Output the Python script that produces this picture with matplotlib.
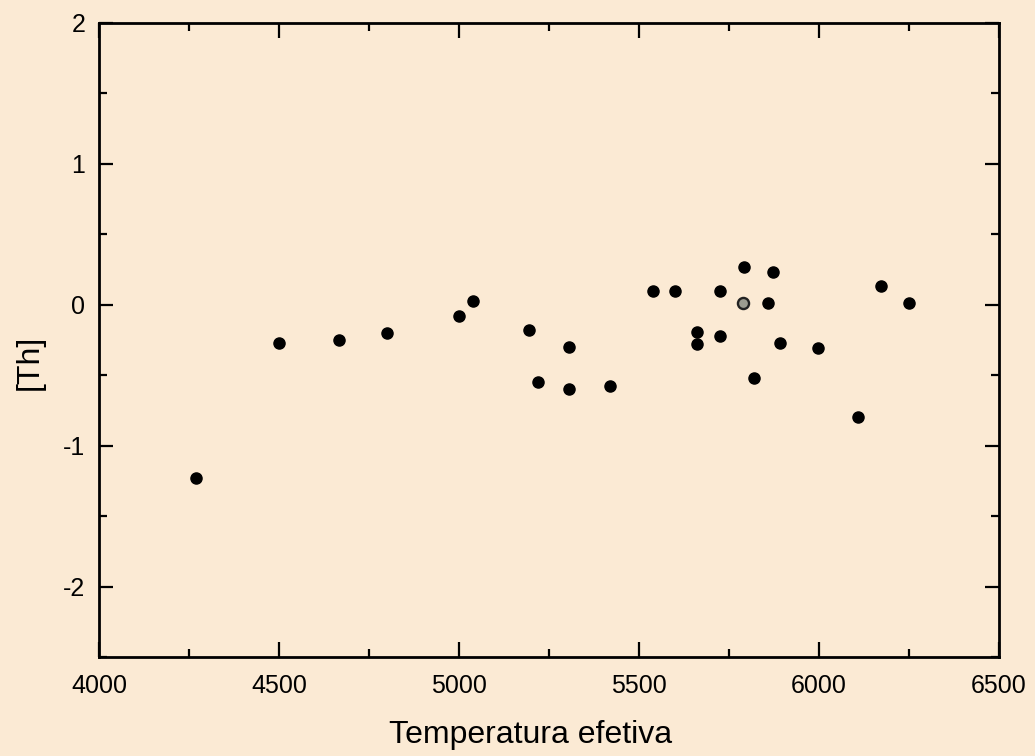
import numpy as np
import matplotlib.pyplot as plt
from matplotlib.ticker import MultipleLocator

# effective temperature (K) and thorium abundance [Th]
teff = [4270, 4500, 4667, 4801, 5001, 5040, 5195, 5220, 5306, 5306, 5419,
        5538, 5600, 5662, 5660, 5725, 5725, 5792, 5820, 5857,
        5871, 5892, 5997, 6109, 6173, 6251]
th = [-1.23, -0.27, -0.25, -0.20, -0.08, 0.03, -0.18, -0.55, -0.30, -0.60, -0.58,
      0.10, 0.10, -0.19, -0.28, 0.10, -0.22, 0.27, -0.52, 0.01,
      0.23, -0.27, -0.31, -0.80, 0.13, 0.01]

# the sun, drawn as a grey dot
sun_teff = [5790]
sun_th = [0.01]

bg = '#fbead4'
plt.rcParams['font.family'] = ['Liberation Sans', 'DejaVu Sans']
plt.rcParams['axes.unicode_minus'] = False

fig = plt.figure(figsize=(10.35, 7.56), dpi=100, facecolor=bg)
ax = fig.add_axes([0.0957, 0.131, 0.8695, 0.8386], facecolor=bg)

ax.plot(teff, th, 'o', color='black', markersize=8, linestyle='none')
ax.plot(sun_teff, sun_th, 'o', markerfacecolor='#9c9c90', markeredgecolor='#222222',
        markeredgewidth=1.7, markersize=8, linestyle='none')

ax.set_xlim(4000, 6500)
ax.set_ylim(-2.5, 2)
ax.xaxis.set_major_locator(MultipleLocator(500))
ax.xaxis.set_minor_locator(MultipleLocator(250))
ax.yaxis.set_major_locator(MultipleLocator(1))
ax.yaxis.set_minor_locator(MultipleLocator(0.5))

ax.tick_params(which='both', direction='in', top=True, right=True, width=1.6,
               color='black', labelsize=18)
ax.tick_params(axis='x', which='major', length=11, pad=12)
ax.tick_params(axis='x', which='minor', length=6)
ax.tick_params(axis='y', which='major', length=10, pad=10)
ax.tick_params(axis='y', which='minor', length=6)
for sp in ax.spines.values():
    sp.set_linewidth(2.0)

ax.set_xlabel('Temperatura efetiva', fontsize=23)
ax.set_ylabel('[Th]', fontsize=23)
ax.xaxis.set_label_coords(0.479, -0.100)
ax.yaxis.set_label_coords(-0.060, 0.464)

fig.savefig('out.png', dpi=100, facecolor=bg)
